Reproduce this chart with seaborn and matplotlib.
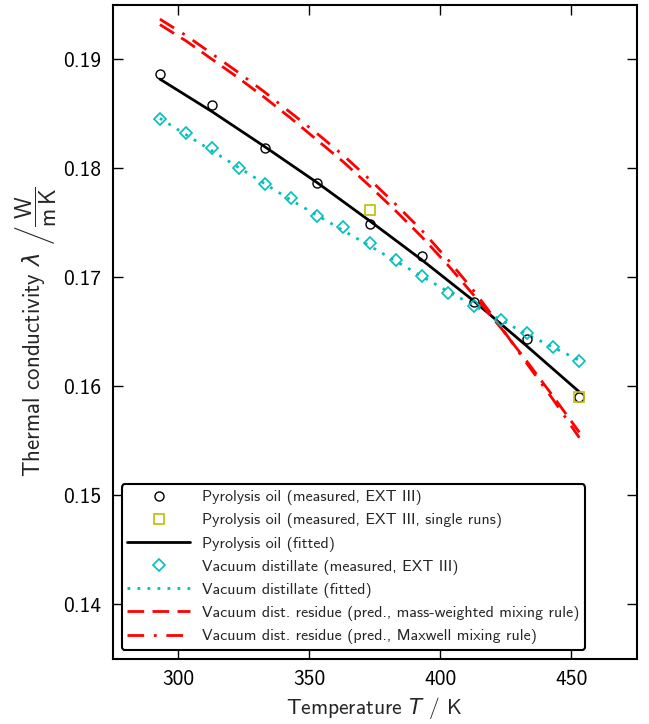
import matplotlib
matplotlib.use('Agg')
import matplotlib.pyplot as plt
import seaborn as sns

# measured pyrolysis oil (EXT III)
T_pyro = [293, 313, 333, 353, 373, 393, 413, 433, 453]
lam_pyro = [0.18867, 0.18583, 0.18188, 0.17867, 0.17491, 0.17197, 0.16772, 0.16433, 0.15901]
lam_pyro_fit = [0.1882, 0.1852, 0.1820, 0.1787, 0.1752, 0.1716, 0.1678, 0.1637, 0.1595]

# single runs
T_single = [373, 453]
lam_single = [0.17619, 0.15906]

# vacuum distillate and residue predictions
T_vd = [293, 303, 313, 323, 333, 343, 353, 363, 373, 383, 393, 403, 413, 423, 433, 443, 453]
lam_vd = [0.18454, 0.18323, 0.18188, 0.18005, 0.17858, 0.17727, 0.17567, 0.17461, 0.17314,
          0.17161, 0.17017, 0.16861, 0.16741, 0.16610, 0.16488, 0.16360, 0.16237]
lam_vd_fit = [0.1846, 0.1831, 0.1816, 0.1801, 0.1786, 0.1771, 0.1757, 0.1743, 0.1729,
              0.1715, 0.1701, 0.1687, 0.1674, 0.1661, 0.1648, 0.1636, 0.1624]
lam_res_mass = [0.1932, 0.1917, 0.1900, 0.1883, 0.1865, 0.1846, 0.1826, 0.1806, 0.1784,
                0.1761, 0.1737, 0.1711, 0.1683, 0.1654, 0.1623, 0.1591, 0.1558]
lam_res_maxwell = [0.1937, 0.1922, 0.1905, 0.1888, 0.1870, 0.1851, 0.1832, 0.1812, 0.1790,
                   0.1767, 0.1743, 0.1716, 0.1687, 0.1655, 0.1621, 0.1588, 0.1553]

x_ticks = [300, 350, 400, 450]
y_ticks = [0.14, 0.15, 0.16, 0.17, 0.18, 0.19]

sns.set_style('ticks')
plt.rcParams.update({
    'font.family': ['cmss10', 'DejaVu Sans'],
    'mathtext.fontset': 'custom',
    'mathtext.rm': 'cmss10',
    'mathtext.sf': 'cmss10',
    'mathtext.it': 'DejaVu Sans:italic',
    'axes.unicode_minus': False,
    'axes.linewidth': 1.5,
    'axes.edgecolor': 'k',
    'xtick.direction': 'in',
    'ytick.direction': 'in',
    'xtick.top': True,
    'ytick.right': True,
    'xtick.major.size': 7,
    'ytick.major.size': 7,
    'xtick.major.width': 1,
    'ytick.major.width': 1,
    'xtick.major.pad': 8,
    'ytick.major.pad': 8,
    'xtick.labelsize': 15.5,
    'ytick.labelsize': 15.5,
    'axes.labelsize': 15.5,
    'xtick.color': 'k',
    'ytick.color': 'k',
})

fig = plt.figure(figsize=(6.49, 7.24), dpi=100)
ax = fig.add_axes([0.1737, 0.0898, 0.8078, 0.9033])

sns.lineplot(x=T_pyro, y=lam_pyro, ax=ax, estimator=None, linestyle='', marker='o',
             ms=6.5, mfc='none', mec='k', mew=1, color='k', zorder=4,
             label='Pyrolysis oil (measured, EXT III)')
sns.lineplot(x=T_single, y=lam_single, ax=ax, estimator=None, linestyle='', marker='s',
             ms=7, mfc='none', mec='y', mew=1.2, color='y', zorder=4,
             label='Pyrolysis oil (measured, EXT III, single runs)')
sns.lineplot(x=T_pyro, y=lam_pyro_fit, ax=ax, estimator=None, color='k', lw=2,
             label='Pyrolysis oil (fitted)')
sns.lineplot(x=T_vd, y=lam_vd, ax=ax, estimator=None, linestyle='', marker='D',
             ms=6, mfc='none', mec='c', mew=1.2, color='c', zorder=4,
             label='Vacuum distillate (measured, EXT III)')
sns.lineplot(x=T_vd, y=lam_vd_fit, ax=ax, estimator=None, color='c', lw=2,
             linestyle=(0, (1, 2.6)), label='Vacuum distillate (fitted)')
sns.lineplot(x=T_vd, y=lam_res_mass, ax=ax, estimator=None, color='r', lw=2,
             linestyle=(0, (6, 3)),
             label='Vacuum dist. residue (pred., mass-weighted mixing rule)')
sns.lineplot(x=T_vd, y=lam_res_maxwell, ax=ax, estimator=None, color='r', lw=2,
             linestyle=(0, (6, 3.5, 1, 3.5)),
             label='Vacuum dist. residue (pred., Maxwell mixing rule)')

ax.set_xlim(275, 475)
ax.set_ylim(0.135, 0.195)
ax.set_xticks(x_ticks)
ax.set_yticks(y_ticks)
ax.set_xticklabels([str(t) for t in x_ticks])
ax.set_yticklabels(['%.2f' % t for t in y_ticks])
ax.minorticks_off()

ax.set_xlabel(r'Temperature $T$ / K', labelpad=4)
ax.set_ylabel(r'Thermal conductivity $\lambda$ $\left/\dfrac{\mathrm{W}}{\mathrm{m\,K}}\right.$',
              labelpad=3, fontsize=16.5)

leg = ax.legend(loc='lower left', bbox_to_anchor=(0.017, 0.014), borderaxespad=0,
                numpoints=1, handlelength=3.95, handletextpad=0.75, borderpad=0.35,
                labelspacing=0.5, fancybox=True, frameon=True, framealpha=1,
                edgecolor='k', fontsize=11.5)
leg.get_frame().set_linewidth(1.5)

fig.savefig('out.png', dpi=100)
